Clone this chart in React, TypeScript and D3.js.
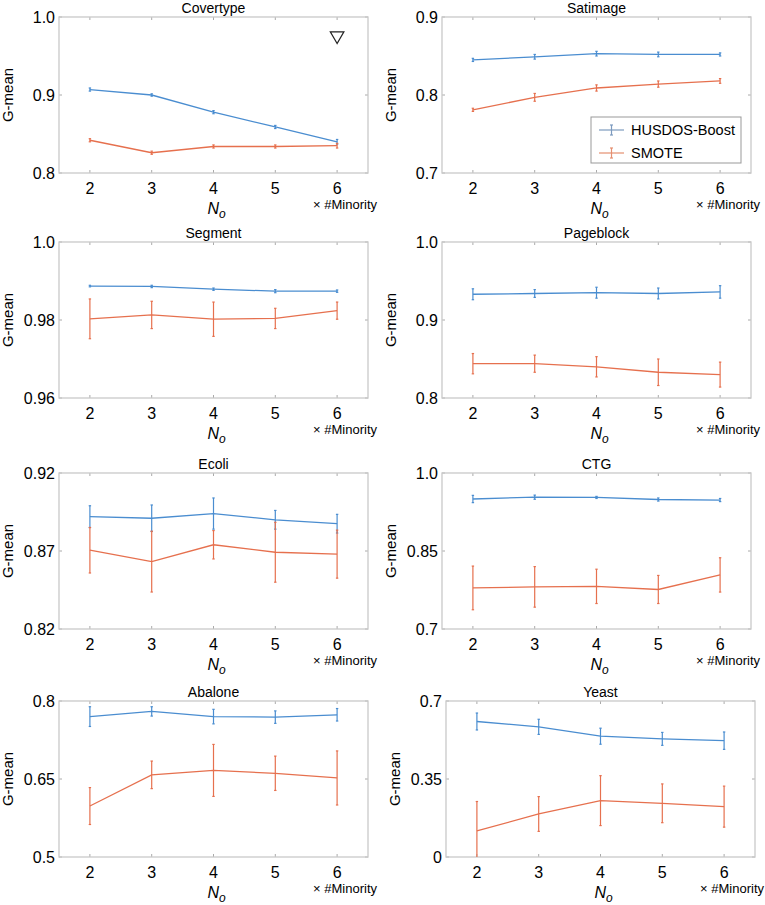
import * as d3 from "d3"

// N_o levels (multiples of #Minority)
const noLevels = [2, 3, 4, 5, 6]

const datasetNames = ["Covertype", "Satimage", "Segment", "Pageblock", "Ecoli", "CTG", "Abalone", "Yeast"]

const yDomains = [
  [0.8, 1.0],
  [0.7, 0.9],
  [0.96, 1.0],
  [0.8, 1.0],
  [0.82, 0.92],
  [0.7, 1.0],
  [0.5, 0.8],
  [0, 0.7],
]

const yTickValues = [
  [0.8, 0.9, 1.0],
  [0.7, 0.8, 0.9],
  [0.96, 0.98, 1.0],
  [0.8, 0.9, 1.0],
  [0.82, 0.87, 0.92],
  [0.7, 0.85, 1.0],
  [0.5, 0.65, 0.8],
  [0, 0.35, 0.7],
]

const yTickLabels = [
  ["0.8", "0.9", "1.0"],
  ["0.7", "0.8", "0.9"],
  ["0.96", "0.98", "1.0"],
  ["0.8", "0.9", "1.0"],
  ["0.82", "0.87", "0.92"],
  ["0.7", "0.85", "1.0"],
  ["0.5", "0.65", "0.8"],
  ["0", "0.35", "0.7"],
]

const husdosMean = [
  [0.907, 0.9, 0.878, 0.859, 0.84],
  [0.845, 0.849, 0.853, 0.852, 0.852],
  [0.9887, 0.9886, 0.9879, 0.9874, 0.9874],
  [0.933, 0.934, 0.935, 0.934, 0.936],
  [0.892, 0.891, 0.894, 0.89, 0.8875],
  [0.95, 0.9535, 0.953, 0.949, 0.948],
  [0.77, 0.78, 0.77, 0.769, 0.7735],
  [0.608, 0.584, 0.542, 0.53, 0.522],
]

const husdosErr = [
  [0.002, 0.0015, 0.002, 0.002, 0.003],
  [0.002, 0.003, 0.003, 0.003, 0.002],
  [0.0002, 0.0003, 0.0003, 0.0004, 0.0003],
  [0.007, 0.005, 0.007, 0.007, 0.008],
  [0.007, 0.0085, 0.01, 0.006, 0.006],
  [0.007, 0.004, 0.002, 0.003, 0.003],
  [0.019, 0.009, 0.014, 0.012, 0.012],
  [0.038, 0.034, 0.036, 0.029, 0.039],
]

const smoteMean = [
  [0.842, 0.826, 0.834, 0.834, 0.835],
  [0.781, 0.797, 0.809, 0.814, 0.818],
  [0.9803, 0.9813, 0.9802, 0.9804, 0.9824],
  [0.844, 0.844, 0.84, 0.833, 0.83],
  [0.8705, 0.8632, 0.874, 0.8692, 0.868],
  [0.779, 0.781, 0.782, 0.776, 0.804],
  [0.598, 0.658, 0.6665, 0.661, 0.652],
  [0.117, 0.193, 0.253, 0.241, 0.226],
]

const smoteErr = [
  [0.002, 0.002, 0.002, 0.002, 0.003],
  [0.002, 0.005, 0.004, 0.004, 0.003],
  [0.0051, 0.0035, 0.0044, 0.0026, 0.0022],
  [0.013, 0.011, 0.013, 0.017, 0.016],
  [0.0146, 0.0195, 0.0091, 0.0192, 0.0154],
  [0.042, 0.039, 0.033, 0.027, 0.033],
  [0.0355, 0.0265, 0.05, 0.033, 0.052],
  [0.132, 0.078, 0.112, 0.087, 0.092],
]

const seriesNames = ["HUSDOS-Boost", "SMOTE"]

// layout
const W = 765
const H = 905
const colLeft = [59, 442]
const rowTop = [17, 242, 473, 701]
const boxW = 309
const boxH = 156
const colors = ["#4a8dd0", "#e6704e"]
const legendColors = ["#7d9bbf", "#e58f70"]
const font = "'Liberation Sans', Arial, Helvetica, sans-serif"
const boxColor = "#c9c9c9"

function Panel({ idx }: { idx: number }) {
  const col = idx % 2
  const row = Math.floor(idx / 2)
  const left = colLeft[col] + (idx === 7 ? 4 : 0)
  const top = rowTop[row]

  const x = d3.scaleLinear().domain([1.5, 6.5]).range([0, boxW])
  const y = d3.scaleLinear().domain(yDomains[idx]).range([boxH, 0])

  const line = d3
    .line<number>()
    .x((_, i) => x(noLevels[i]))
    .y((d) => y(d))

  const series = [
    { mean: husdosMean[idx], err: husdosErr[idx] },
    { mean: smoteMean[idx], err: smoteErr[idx] },
  ]
  const clipId = `clip-${idx}`

  return (
    <g transform={`translate(${left},${top})`}>
      <defs>
        <clipPath id={clipId}>
          <rect x={0} y={0} width={boxW} height={boxH} />
        </clipPath>
      </defs>
      <text x={boxW / 2} y={-4} textAnchor="middle" fontSize={14} fontFamily={font}>
        {datasetNames[idx]}
      </text>

      {/* ticks */}
      {noLevels.map((v) => (
        <g key={`xt${v}`}>
          <line x1={x(v)} x2={x(v)} y1={boxH} y2={boxH - 3} stroke="#aaa" />
          <line x1={x(v)} x2={x(v)} y1={0} y2={3} stroke="#aaa" />
          <text x={x(v)} y={boxH + 21} textAnchor="middle" fontSize={16} fontFamily={font}>
            {v}
          </text>
        </g>
      ))}
      {yTickValues[idx].map((v, i) => (
        <g key={`yt${i}`}>
          <line x1={0} x2={3} y1={y(v)} y2={y(v)} stroke="#aaa" />
          <line x1={boxW} x2={boxW - 3} y1={y(v)} y2={y(v)} stroke="#aaa" />
          <text x={-4} y={y(v)} dy="0.36em" textAnchor="end" fontSize={16} fontFamily={font}>
            {yTickLabels[idx][i]}
          </text>
        </g>
      ))}

      <rect x={0} y={0} width={boxW} height={boxH} fill="none" stroke={boxColor} strokeWidth={1.3} />

      <g clipPath={`url(#${clipId})`}>
        {series.map((s, si) => (
          <g key={si}>
            <path d={line(s.mean) || ""} fill="none" stroke={colors[si]} strokeWidth={1.3} />
            {s.mean.map((m, i) => {
              const cx = x(noLevels[i])
              const y0 = y(m - s.err[i])
              const y1 = y(m + s.err[i])
              return (
                <g key={i} stroke={colors[si]} strokeWidth={1.2}>
                  <line x1={cx} x2={cx} y1={y0} y2={y1} />
                  <line x1={cx - 1.2} x2={cx + 1.2} y1={y0} y2={y0} />
                  <line x1={cx - 1.2} x2={cx + 1.2} y1={y1} y2={y1} />
                </g>
              )
            })}
          </g>
        ))}
      </g>

      {idx === 0 && (
        <path
          d={d3.symbol(d3.symbolTriangle, 80)() || ""}
          transform={`translate(${x(6)},${y(0.976)}) rotate(180)`}
          fill="none"
          stroke="#222"
          strokeWidth={1.2}
        />
      )}

      {idx === 1 && (
        <g transform={`translate(${boxW - 160},${100})`}>
          <rect x={0} y={0} width={150} height={46} fill="#fff" stroke="#999" strokeWidth={1} />
          {seriesNames.map((name, i) => {
            const cy = 13 + i * 23
            return (
              <g key={name}>
                <g stroke={legendColors[i]} strokeWidth={1.2}>
                  <line x1={8} x2={33} y1={cy} y2={cy} />
                  <line x1={20.5} x2={20.5} y1={cy - 5} y2={cy + 5} />
                  <line x1={19} x2={22} y1={cy - 5} y2={cy - 5} />
                  <line x1={19} x2={22} y1={cy + 5} y2={cy + 5} />
                </g>
                <text x={40} y={cy} dy="0.36em" fontSize={14.5} fontFamily={font}>
                  {name}
                </text>
              </g>
            )
          })}
        </g>
      )}

      <text
        transform={`translate(${-46},${boxH / 2}) rotate(-90)`}
        textAnchor="middle"
        fontSize={15}
        fontFamily={font}
      >
        G-mean
      </text>
      <text x={boxW / 2 + 3} y={boxH + 41} textAnchor="middle" fontSize={16} fontFamily={font} fontStyle="italic">
        N<tspan fontSize={12} dy={4}>o</tspan>
      </text>
      <text x={boxW + 9} y={boxH + 36} textAnchor="end" fontSize={13} fontFamily={font}>
        × #Minority
      </text>
    </g>
  )
}

export default function App() {
  return (
    <svg
      width={W}
      height={H}
      viewBox={`0 0 ${W} ${H}`}
      style={{ position: "absolute", left: 0, top: 0, background: "#fff" }}
    >
      {datasetNames.map((_, i) => (
        <Panel key={i} idx={i} />
      ))}
    </svg>
  )
}
